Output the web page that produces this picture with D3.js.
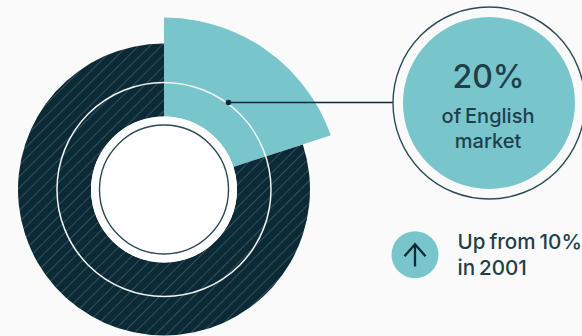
<!DOCTYPE html>
<html>
<head>
<meta charset="utf-8">
<script src="https://cdn.jsdelivr.net/npm/d3@7"></script>
<style>
  html, body { margin: 0; padding: 0; background: #fafafa; overflow: hidden; }
  svg { display: block; }
  text { font-family: Inter, "Noto Sans", sans-serif; font-weight: 500; fill: #1f3f4b; word-spacing: -1.5px; }
</style>
</head>
<body>
<svg id="chart" width="582" height="336"></svg>
<script>
// Market share of English, shown as a pushed-out wedge on a hatched ring
const categories = ["English", "Other"];
const shares = [20, 80];
const headline = ["20%"];
const captionLines = ["of English", "market"];
const trendLines = ["Up from 10%", "in 2001"];

const width = 582, height = 336;
const teal = "#78c6cc", dark = "#0b2a35", ink = "#1f3f4b";
const cx = 164, cy = 189.5;

const svg = d3.select("#chart");

const defs = svg.append("defs");
const hatch = defs.append("pattern")
  .attr("id", "hatch")
  .attr("patternUnits", "userSpaceOnUse")
  .attr("width", 8).attr("height", 8)
  .attr("patternTransform", "rotate(45)");
hatch.append("rect").attr("width", 8).attr("height", 8).attr("fill", dark);
hatch.append("line")
  .attr("x1", 0).attr("x2", 0).attr("y1", 0).attr("y2", 8)
  .attr("stroke", "#37545f").attr("stroke-width", 1.8);

// The wedge's outer edge bulges from a point just below the ring's centre
defs.append("clipPath").attr("id", "wedge-edge")
  .append("circle").attr("cx", 0).attr("cy", 4.9).attr("r", 176.9);

const pie = d3.pie().sort(null).value(d => d)(shares);

const ring = svg.append("g").attr("transform", `translate(${cx},${cy})`);
const innerR = 73, outerR = 146, wedgeR = 195;

ring.selectAll("path.slice")
  .data(pie)
  .join("path")
  .attr("class", "slice")
  .attr("d", (d, i) => d3.arc()
    .innerRadius(innerR)
    .outerRadius(i === 0 ? wedgeR : outerR)(d))
  .attr("fill", (d, i) => i === 0 ? teal : "url(#hatch)")
  .attr("clip-path", (d, i) => i === 0 ? "url(#wedge-edge)" : null);

// Hole and the two guide rings
ring.append("circle").attr("r", innerR).attr("fill", "#ffffff");
ring.append("circle").attr("r", 64.5).attr("fill", "none")
  .attr("stroke", "#2c4a55").attr("stroke-width", 1.4);
ring.append("circle").attr("r", 107).attr("fill", "none")
  .attr("stroke", "#f2f4f4").attr("stroke-width", 1.5);

// Leader from the wedge to the callout
const calloutX = 489, calloutY = 103;
svg.append("line")
  .attr("x1", 228.5).attr("x2", 393)
  .attr("y1", 102.5).attr("y2", 102.5)
  .attr("stroke", dark).attr("stroke-width", 1.3);
svg.append("circle").attr("cx", 228.5).attr("cy", 102.5).attr("r", 2.8).attr("fill", dark);

// Callout
svg.append("circle").attr("cx", calloutX).attr("cy", calloutY).attr("r", 96)
  .attr("fill", "#fafafa").attr("stroke", "#2c4a55").attr("stroke-width", 1.4);
svg.append("circle").attr("cx", calloutX).attr("cy", calloutY).attr("r", 86).attr("fill", teal);

svg.append("text").attr("x", 488.5).attr("y", 88)
  .attr("text-anchor", "middle").attr("font-size", 32).text(headline[0]);
svg.selectAll("text.caption")
  .data(captionLines)
  .join("text")
  .attr("class", "caption")
  .attr("x", 488).attr("y", (d, i) => 123 + i * 25)
  .attr("text-anchor", "middle").attr("font-size", 20).text(d => d);

// Trend badge
const badge = svg.append("g").attr("transform", "translate(415,254.7)");
badge.append("circle").attr("r", 23.5).attr("fill", teal);
badge.append("path")
  .attr("d", "M0,11.8V-10.5M-10.5,1.5L0,-10.5L10.5,1.5")
  .attr("fill", "none").attr("stroke", dark).attr("stroke-width", 2.3);

svg.selectAll("text.trend")
  .data(trendLines)
  .join("text")
  .attr("class", "trend")
  .attr("x", 457.5).attr("y", (d, i) => 249 + i * 25.5)
  .attr("font-size", 20.6).text(d => d);
</script>
</body>
</html>
